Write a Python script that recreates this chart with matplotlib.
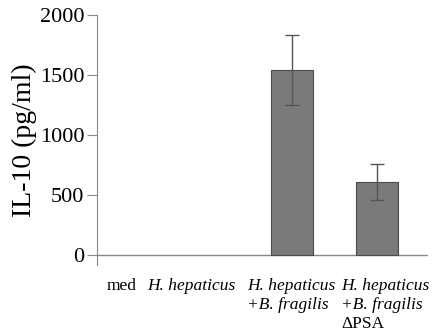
import matplotlib
matplotlib.use("Agg")
import matplotlib.pyplot as plt

# Data
categories = ["med", "H. hepaticus", "H. hepaticus +B. fragilis", "H. hepaticus +B. fragilis ΔPSA"]
values = [0, 0, 1540, 610]
errors = [0, 0, 290, 148]
# label lines: (text, italic)
label_lines = [
    [("med", False)],
    [("H. hepaticus", True)],
    [("H. hepaticus", True), ("+B. fragilis", True)],
    [("H. hepaticus", True), ("+B. fragilis", True), ("ΔPSA", False)],
]
yticks = [0, 500, 1000, 1500, 2000]
ylabel = "IL-10 (pg/ml)"

plt.rcParams['font.family'] = ['Liberation Serif', 'DejaVu Serif']

fig = plt.figure(figsize=(4.33, 3.36), dpi=100)
ax = fig.add_axes([97/433, 1-265/336, (428-97)/433, (265-15)/336])

x = list(range(len(categories)))
lws = [0.8 if v > 0 else 0 for v in values]
ax.bar(x, values, width=0.5, color="#7a7a7a", edgecolor="#4a4a4a", linewidth=lws, zorder=2)
ax.errorbar(x[2:], values[2:], yerr=errors[2:], fmt="none", ecolor="#555555",
            elinewidth=1.0, capsize=5, capthick=1.0, zorder=3)

ax.set_xlim(-0.294, 3.6)
ax.set_ylim(-83, 2000)
ax.axhline(0, color="#888888", linewidth=1.0, zorder=1)
for s in ["top", "right", "bottom"]:
    ax.spines[s].set_visible(False)
ax.spines["left"].set_color("#888888")
ax.spines["left"].set_bounds(-83, 2000)
ax.set_yticks(yticks)
ax.set_yticklabels([str(t) for t in yticks], fontsize=16)
ax.tick_params(axis="y", direction="out", length=7, color="#888888", pad=2)
ax.set_xticks([])
ax.set_ylabel(ylabel, fontsize=20, labelpad=2)

left_offsets = [-15, -60, -45, -36]
line_offsets = [-35, -54, -73]
for i, lines in enumerate(label_lines):
    for j, (txt, it) in enumerate(lines):
        ax.annotate(txt, xy=(x[i], 0), xycoords="data",
                    xytext=(left_offsets[i], line_offsets[j]), textcoords="offset pixels",
                    ha="left", va="baseline", fontsize=12.5,
                    style="italic" if it else "normal", annotation_clip=False)

fig.savefig("out.png", dpi=100)
